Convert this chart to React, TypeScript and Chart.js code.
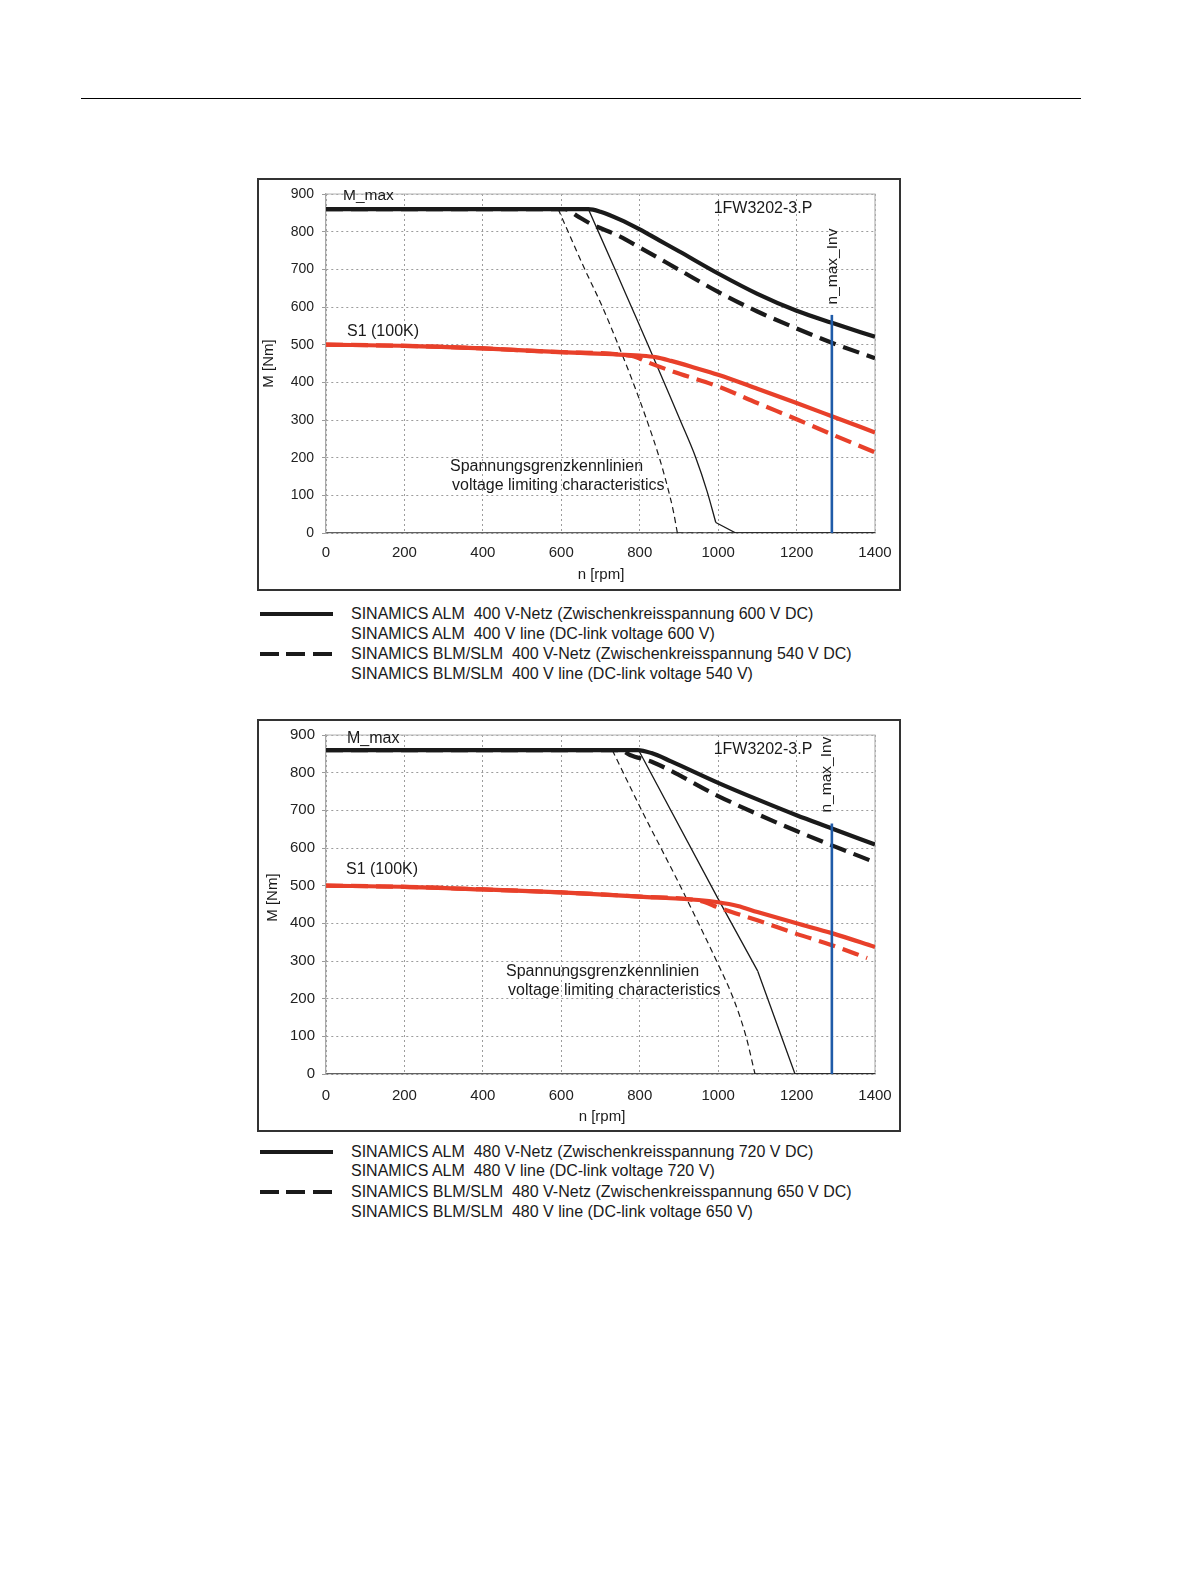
import React, { useEffect, useRef } from "react";
import { Chart, registerables } from "chart.js";

Chart.register(...registerables);

type Pt = [number, number];

const FONT = '"Liberation Sans", Arial, Helvetica, sans-serif';
Chart.defaults.font.family = FONT;

// axis tick labels
const RPM_TICKS = [0, 200, 400, 600, 800, 1000, 1200, 1400];
const NM_TICKS = [0, 100, 200, 300, 400, 500, 600, 700, 800, 900];

// inverter max speed marker
const N_MAX_INV = 1290;

// ---------- Chart 1 : 400 V line ----------
const C1_MMAX_ALM: Pt[] = [[0, 860], [669, 860], [700, 853], [750, 832], [800, 806], [850, 777], [900, 748], [1000, 689], [1100, 635], [1200, 590], [1290, 558], [1400, 521]];
const C1_MMAX_BLM: Pt[] = [[0, 860], [609, 860], [640, 842], [673, 822], [750, 787], [800, 758], [900, 699], [1000, 640], [1100, 588], [1200, 543], [1290, 505], [1400, 464]];
const C1_S1_ALM: Pt[] = [[0, 500], [200, 497], [400, 490], [600, 480], [800, 471], [840, 467], [880, 457], [940, 439], [1000, 420], [1100, 383], [1200, 345], [1290, 310], [1400, 267]];
const C1_S1_BLM: Pt[] = [[0, 500], [200, 497], [400, 490], [600, 480], [780, 470], [826, 451], [886, 428], [1000, 389], [1100, 345], [1200, 302], [1290, 262], [1400, 214]];
const C1_VLIM_ALM: Pt[] = [[669, 860], [737, 700], [779, 600], [821, 500], [862, 400], [903, 300], [943, 200], [972, 110], [994, 28]];
const C1_VLIM_ALM_TAIL: Pt[] = [[994, 28], [1045, 0], [1400, 0]];
const C1_VLIM_BLM: Pt[] = [[592, 860], [660, 700], [705, 600], [745, 500], [783, 400], [818, 300], [850, 200], [872, 118], [886, 57], [896, 0]];
const C1_VLIM_BLM_TAIL: Pt[] = [[896, 0], [1045, 0]];
const C1_NMAX_TOP = 579;

// ---------- Chart 2 : 480 V line ----------
const C2_MMAX_ALM: Pt[] = [[0, 860], [795, 860], [830, 852], [880, 830], [1000, 773], [1100, 729], [1200, 687], [1290, 652], [1400, 609]];
const C2_MMAX_BLM: Pt[] = [[0, 860], [750, 860], [775, 847], [835, 827], [1000, 738], [1100, 690], [1200, 645], [1290, 607], [1400, 562]];
const C2_S1_ALM: Pt[] = [[0, 500], [200, 497], [400, 490], [600, 482], [800, 471], [950, 462], [1000, 456], [1050, 446], [1100, 430], [1200, 400], [1290, 374], [1400, 337]];
const C2_S1_BLM: Pt[] = [[0, 500], [200, 497], [400, 490], [600, 482], [800, 471], [960, 458], [1000, 442], [1100, 408], [1200, 372], [1290, 342], [1380, 308]];
const C2_VLIM_ALM: Pt[] = [[797, 860], [1000, 465], [1101, 273]];
const C2_VLIM_ALM_TAIL: Pt[] = [[1101, 273], [1196, 0], [1400, 0]];
const C2_VLIM_BLM: Pt[] = [[730, 860], [805, 700], [903, 500], [950, 400], [996, 300], [1039, 200], [1071, 100], [1094, 0]];
const C2_VLIM_BLM_TAIL: Pt[] = [[1094, 0], [1196, 0]];
const C2_NMAX_TOP = 665;

const LEGEND1 = [
  "SINAMICS ALM  400 V-Netz (Zwischenkreisspannung 600 V DC)",
  "SINAMICS ALM  400 V line (DC-link voltage 600 V)",
  "SINAMICS BLM/SLM  400 V-Netz (Zwischenkreisspannung 540 V DC)",
  "SINAMICS BLM/SLM  400 V line (DC-link voltage 540 V)",
];
const LEGEND2 = [
  "SINAMICS ALM  480 V-Netz (Zwischenkreisspannung 720 V DC)",
  "SINAMICS ALM  480 V line (DC-link voltage 720 V)",
  "SINAMICS BLM/SLM  480 V-Netz (Zwischenkreisspannung 650 V DC)",
  "SINAMICS BLM/SLM  480 V line (DC-link voltage 650 V)",
];

const BLACK = "#1a1a1a";
const RED = "#e8402a";
const BLUE = "#1f5ba8";
const GRID = "#9c9c9c";

const CW = 644;
const CH = 413;

type TextItem = { text: string; x: number; y: number; size: number; align?: CanvasTextAlign; rot?: number };

function makeTextPlugin(items: TextItem[]) {
  return {
    id: "texts",
    afterDraw(chart: any) {
      const ctx = chart.ctx as CanvasRenderingContext2D;
      for (const t of items) {
        ctx.save();
        ctx.font = `${t.size}px ${FONT}`;
        ctx.fillStyle = BLACK;
        ctx.textBaseline = "middle";
        ctx.textAlign = t.align || "left";
        ctx.translate(t.x, t.y);
        if (t.rot) ctx.rotate(t.rot);
        ctx.fillText(t.text, 0, 0);
        ctx.restore();
      }
    },
  };
}

const framePlugin = {
  id: "frame",
  beforeDatasetsDraw(chart: any) {
    const { ctx, chartArea: a } = chart;
    ctx.save();
    ctx.strokeStyle = "#b4b4b4";
    ctx.lineWidth = 1.2;
    ctx.beginPath();
    ctx.moveTo(a.left, a.top);
    ctx.lineTo(a.right, a.top);
    ctx.lineTo(a.right, a.bottom);
    ctx.stroke();
    ctx.restore();
  },
};

function ds(pts: Pt[], color: string, width: number, dash: number[], order: number, smooth: boolean) {
  return {
    data: pts.map(([x, y]) => ({ x, y })),
    borderColor: color,
    backgroundColor: color,
    borderWidth: width,
    borderDash: dash,
    borderCapStyle: "butt",
    borderJoinStyle: "round",
    pointRadius: 0,
    fill: false,
    showLine: true,
    tension: 0,
    cubicInterpolationMode: smooth ? "monotone" : "default",
    order,
  };
}

type Series = {
  mmaxAlm: Pt[]; mmaxBlm: Pt[]; s1Alm: Pt[]; s1Blm: Pt[];
  vAlm: Pt[]; vAlmTail: Pt[]; vBlm: Pt[]; vBlmTail: Pt[]; vSmooth: boolean; nmaxTop: number;
};

function ChartPanel(props: { left: number; top: number; s: Series; texts: TextItem[]; yTickSize: number; yTickPad: number; xTickPad: number }) {
  const ref = useRef<HTMLCanvasElement | null>(null);
  useEffect(() => {
    if (!ref.current) return;
    const { s } = props;
    const nmax: Pt[] = [[N_MAX_INV, 0], [N_MAX_INV, s.nmaxTop]];
    const chart = new Chart(ref.current, {
      type: "scatter",
      data: {
        datasets: [
          ds(nmax, BLUE, 2.6, [], 0, false),
          ds(s.mmaxAlm, BLACK, 4.2, [], 1, true),
          ds(s.mmaxBlm, BLACK, 4.2, [17, 8], 2, true),
          ds(s.s1Alm, RED, 4.2, [], 3, true),
          ds(s.s1Blm, RED, 4.2, [17, 8], 4, true),
          ds(s.vAlm, BLACK, 1.3, [], 5, s.vSmooth),
          ds(s.vAlmTail, BLACK, 1.3, [], 5, false),
          ds(s.vBlm, BLACK, 1.2, [6, 4], 6, true),
          ds(s.vBlmTail, BLACK, 1.2, [6, 4], 6, false),
        ] as any,
      },
      options: {
        animation: false,
        responsive: false,
        devicePixelRatio: 1,
        events: [],
        layout: { padding: { top: 16, right: 26, left: 0, bottom: 0 } },
        plugins: { legend: { display: false }, tooltip: { enabled: false }, title: { display: false } },
        scales: {
          x: {
            type: "linear",
            min: 0,
            max: 1400,
            afterBuildTicks: (sc: any) => { sc.ticks = RPM_TICKS.map((v) => ({ value: v })); },
            afterFit: (sc: any) => { sc.height = 58; sc.paddingLeft = 0; sc.paddingRight = 0; },
            ticks: { font: { size: 15, family: FONT }, color: "#222", padding: props.xTickPad, maxRotation: 0, autoSkip: false, callback: (v: any) => String(v) },
            grid: { color: GRID, lineWidth: 1, drawTicks: false },
            border: { color: "#606060", width: 1.3, dash: [2, 3] },
          },
          y: {
            type: "linear",
            min: 0,
            max: 900,
            afterBuildTicks: (sc: any) => { sc.ticks = NM_TICKS.map((v) => ({ value: v })); },
            afterFit: (sc: any) => { sc.width = 69; sc.paddingTop = 0; sc.paddingBottom = 0; },
            ticks: { font: { size: props.yTickSize, family: FONT }, color: "#222", padding: props.yTickPad, autoSkip: false, callback: (v: any) => String(v) },
            grid: { color: GRID, lineWidth: 1, drawTicks: true, tickLength: 4, tickColor: "#9a9a9a", tickBorderDash: [] },
            border: { color: "#a8a8a8", width: 1.3, dash: [2, 3] },
          },
        },
      } as any,
      plugins: [framePlugin, makeTextPlugin(props.texts)] as any,
    });
    return () => chart.destroy();
  }, []);
  return (
    <>
      <canvas
        ref={ref}
        width={CW}
        height={CH}
        style={{ position: "absolute", left: props.left, top: props.top, width: CW, height: CH }}
      />
      <div
        style={{
          position: "absolute", left: props.left, top: props.top, width: CW, height: CH,
          border: "2px solid #333", boxSizing: "border-box", pointerEvents: "none",
        }}
      />
    </>
  );
}

function Legend(props: { top: number; lines: string[] }) {
  const { top, lines } = props;
  const ys = [top, top + 19.5, top + 40, top + 60];
  return (
    <>
      <div style={{ position: "absolute", left: 260, top: top - 2, width: 73, height: 4, background: BLACK }} />
      {[0, 1, 2].map((i) => (
        <div key={i} style={{ position: "absolute", left: 260 + i * 26.3, top: ys[2] - 2, width: 19, height: 4, background: BLACK }} />
      ))}
      {lines.map((t, i) => (
        <div
          key={i}
          style={{
            position: "absolute", left: 351, top: ys[i] - 10, height: 20, lineHeight: "20px",
            fontFamily: FONT, fontSize: 16, color: BLACK, whiteSpace: "pre",
          }}
        >
          {t}
        </div>
      ))}
    </>
  );
}

const R90 = -Math.PI / 2;

const TEXTS1: TextItem[] = [
  { text: "M_max", x: 86, y: 17.5, size: 15.5 },
  { text: "1FW3202-3.P", x: 506, y: 30.5, size: 16, align: "center" },
  { text: "n_max_Inv", x: 575.5, y: 88.5, size: 15.5, align: "center", rot: R90 },
  { text: "S1 (100K)", x: 90, y: 154, size: 16 },
  { text: "Spannungsgrenzkennlinien", x: 193, y: 288.5, size: 16 },
  { text: "voltage limiting characteristics", x: 195, y: 307.7, size: 16 },
  { text: "M [Nm]", x: 12, y: 185.5, size: 15, align: "center", rot: R90 },
  { text: "n [rpm]", x: 344, y: 397, size: 15, align: "center" },
];

const TEXTS2: TextItem[] = [
  { text: "M_max", x: 90, y: 19.3, size: 16 },
  { text: "1FW3202-3.P", x: 506, y: 30.5, size: 16, align: "center" },
  { text: "n_max_Inv", x: 570, y: 55.6, size: 15.5, align: "center", rot: R90 },
  { text: "S1 (100K)", x: 89, y: 150.2, size: 16 },
  { text: "Spannungsgrenzkennlinien", x: 249, y: 252.4, size: 16 },
  { text: "voltage limiting characteristics", x: 251, y: 271.7, size: 16 },
  { text: "M [Nm]", x: 16, y: 178.6, size: 15, align: "center", rot: R90 },
  { text: "n [rpm]", x: 345, y: 398, size: 15, align: "center" },
];

const SERIES1: Series = {
  mmaxAlm: C1_MMAX_ALM, mmaxBlm: C1_MMAX_BLM, s1Alm: C1_S1_ALM, s1Blm: C1_S1_BLM,
  vAlm: C1_VLIM_ALM, vAlmTail: C1_VLIM_ALM_TAIL, vBlm: C1_VLIM_BLM, vBlmTail: C1_VLIM_BLM_TAIL, vSmooth: true, nmaxTop: C1_NMAX_TOP,
};
const SERIES2: Series = {
  mmaxAlm: C2_MMAX_ALM, mmaxBlm: C2_MMAX_BLM, s1Alm: C2_S1_ALM, s1Blm: C2_S1_BLM,
  vAlm: C2_VLIM_ALM, vAlmTail: C2_VLIM_ALM_TAIL, vBlm: C2_VLIM_BLM, vBlmTail: C2_VLIM_BLM_TAIL, vSmooth: false, nmaxTop: C2_NMAX_TOP,
};

export default function App() {
  return (
    <div style={{ position: "absolute", left: 0, top: 0, width: 1191, height: 1587, background: "#fff", overflow: "hidden" }}>
      <div style={{ position: "absolute", left: 81, top: 98, width: 1000, height: 1, background: "#000" }} />
      <ChartPanel left={257} top={178} s={SERIES1} texts={TEXTS1} yTickSize={14} yTickPad={8} xTickPad={11} />
      <Legend top={614} lines={LEGEND1} />
      <ChartPanel left={257} top={719} s={SERIES2} texts={TEXTS2} yTickSize={15} yTickPad={7} xTickPad={13} />
      <Legend top={1151.7} lines={LEGEND2} />
    </div>
  );
}
